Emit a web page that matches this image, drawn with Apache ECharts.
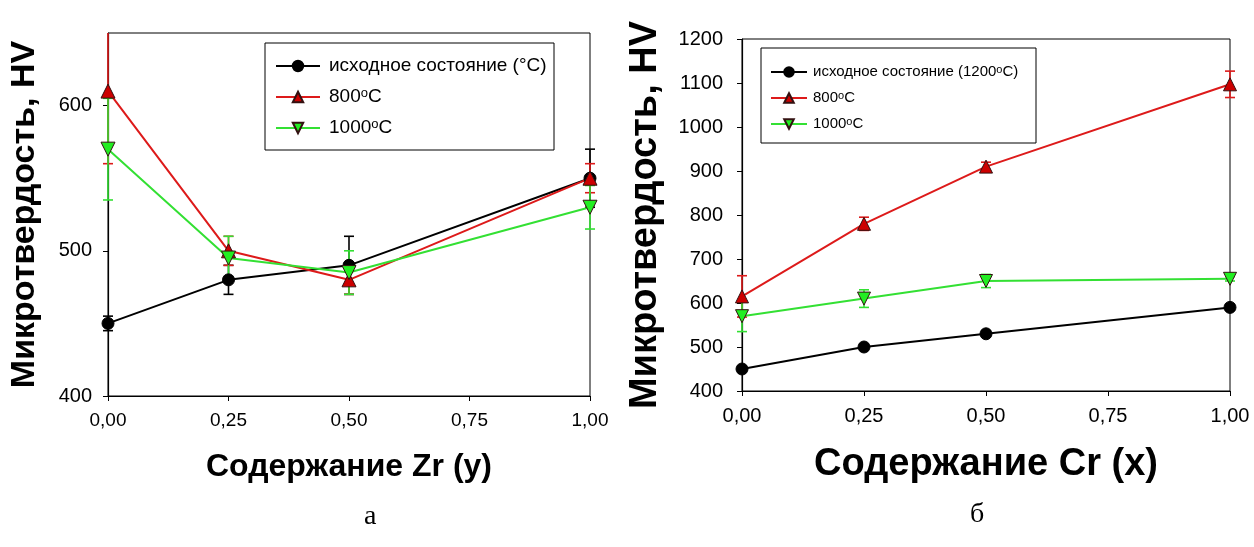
<!DOCTYPE html>
<html>
<head>
<meta charset="utf-8">
<script src="https://cdn.jsdelivr.net/npm/echarts@6/dist/echarts.min.js"></script>
<style>
  html, body { margin: 0; padding: 0; background: #fff; }
  #main { width: 1254px; height: 547px; }
</style>
</head>
<body>
<div id="main"></div>
<script>
// x positions (same for both panels)
var xValues = [0, 0.25, 0.5, 1.0]
var xTicks = [0, 0.25, 0.5, 0.75, 1.0]

// panel а: Zr content
var zrInitial = [450, 480, 490, 550]
var zrInitialErr = [5, 10, 20, 20]
var zr800 = [610, 500, 480, 550]
var zr800Err = [50, 10, 10, 10]
var zr1000 = [570, 495, 485, 530]
var zr1000Err = [35, 15, 15, 15]

// panel б: Cr content
var crInitial = [450, 500, 530, 590]
var crInitialErr = [6, 6, 6, 6]
var cr800 = [615, 780, 910, 1097]
var cr800Err = [47, 15, 10, 30]
var cr1000 = [570, 610, 650, 655]
var cr1000Err = [35, 20, 15, 5]

var nameInitA = 'исходное состояние (°C)'
var nameInitB = 'исходное состояние (1200°C)'
var name800 = '800°C'
var name1000 = '1000°C'

var legendText = {}
legendText[nameInitA] = 'исходное состояние (°C)'
legendText[nameInitB] = 'исходное состояние (1200{s|o}C)'
legendText[name800] = '800{s|o}C'
legendText[name1000] = '1000{s|o}C'

var BLACK = '#000000'
var RED = '#dd1a1a'
var RED_FILL = '#cc0000'
var GREEN = '#33e033'
var GREEN_FILL = '#22ee22'
var FONT = '"Liberation Sans", Arial, sans-serif'

function pairs(vals) {
  return xValues.map(function (x, i) { return [x, vals[i]] })
}
function triples(vals, errs) {
  return xValues.map(function (x, i) { return [x, vals[i], errs[i]] })
}

function lineSerie(name, vals, idx, color, fill, symbol, size, rotate) {
  return {
    name: name,
    type: 'line',
    xAxisIndex: idx,
    yAxisIndex: idx,
    data: pairs(vals),
    symbol: symbol,
    symbolSize: size,
    symbolRotate: rotate || 0,
    showAllSymbol: true,
    lineStyle: { color: color, width: 2 },
    itemStyle: { color: fill, borderColor: symbol == 'circle' ? BLACK : '#331111', borderWidth: 1 },
    z: 3,
    animation: false
  }
}

function errSerie(vals, errs, idx, color, yMax) {
  return {
    type: 'custom',
    xAxisIndex: idx,
    yAxisIndex: idx,
    data: triples(vals, errs),
    z: 2,
    silent: true,
    animation: false,
    renderItem: function (params, api) {
      var x = api.value(0), y = api.value(1), e = api.value(2)
      var hiVal = Math.min(y + e, yMax)
      var hi = api.coord([x, hiVal])
      var lo = api.coord([x, y - e])
      var w = 5
      var st = { stroke: color, lineWidth: 1.6 }
      var kids = [
        { type: 'line', shape: { x1: hi[0], y1: hi[1], x2: lo[0], y2: lo[1] }, style: st },
        { type: 'line', shape: { x1: lo[0] - w, y1: lo[1], x2: lo[0] + w, y2: lo[1] }, style: st }
      ]
      if (hiVal == y + e) {
        kids.push({ type: 'line', shape: { x1: hi[0] - w, y1: hi[1], x2: hi[0] + w, y2: hi[1] }, style: st })
      }
      return { type: 'group', children: kids }
    }
  }
}

function xAxisOpt(idx, title, labelSize, titleSize) {
  return {
    gridIndex: idx,
    type: 'value',
    min: 0,
    max: 1,
    interval: 0.25,
    axisLine: { lineStyle: { color: BLACK, width: 1.2 } },
    axisTick: { show: true, length: 5, lineStyle: { color: BLACK } },
    splitLine: { show: false },
    axisLabel: {
      color: BLACK, fontSize: labelSize, fontFamily: FONT, margin: 15,
      formatter: function (v) { return v.toFixed(2).replace('.', ',') }
    },
    name: title,
    nameLocation: 'middle',
    nameGap: 55,
    nameTextStyle: { color: BLACK, fontSize: titleSize, fontWeight: 'bold', fontFamily: FONT }
  }
}

function yAxisOpt(idx, min, max, margin, titleSize, nameGap) {
  return {
    gridIndex: idx,
    type: 'value',
    min: min,
    max: max,
    interval: 100,
    axisLine: { show: true, lineStyle: { color: BLACK, width: 1.2 } },
    axisTick: { show: true, length: 5, lineStyle: { color: BLACK } },
    splitLine: { show: false },
    axisLabel: {
      color: BLACK, fontSize: 20, fontFamily: FONT, margin: margin, showMaxLabel: max % 100 == 0,
      formatter: function (v) { return String(v) }
    },
    name: 'Микротвердость, HV',
    nameLocation: 'middle',
    nameRotate: 90,
    nameGap: nameGap,
    nameTextStyle: { color: BLACK, fontSize: titleSize, fontWeight: 'bold', fontFamily: FONT }
  }
}

var myChart = echarts.init(document.getElementById('main'), null, { renderer: 'canvas' })

var option = {
  backgroundColor: '#ffffff',
  animation: false,
  grid: [
    { left: 108, right: 664, top: 33, bottom: 151, show: true, borderColor: BLACK, borderWidth: 1, backgroundColor: 'transparent' },
    { left: 742, right: 24, top: 39, bottom: 156, show: true, borderColor: BLACK, borderWidth: 1, backgroundColor: 'transparent' }
  ],
  xAxis: [
    xAxisOpt(0, 'Содержание Zr (y)', 19, 32),
    xAxisOpt(1, 'Содержание Cr (x)', 20, 38)
  ],
  yAxis: [
    yAxisOpt(0, 400, 650, 16, 34, 66),
    yAxisOpt(1, 400, 1200, 19, 38, 77)
  ],
  legend: [
    {
      data: [nameInitA, name800, name1000],
      orient: 'vertical',
      left: 275,
      top: 56,
      padding: 0,
      itemGap: 11,
      itemWidth: 44,
      itemHeight: 13,
      z: 10,
      selectedMode: false,
      formatter: function (n) { return legendText[n] },
      textStyle: {
        color: BLACK, fontSize: 19, fontFamily: FONT, lineHeight: 20, padding: [0, 0, 0, 4],
        rich: { s: { fontSize: 13, verticalAlign: 'top', lineHeight: 12, fontFamily: FONT, color: BLACK } }
      }
    },
    {
      data: [nameInitB, name800, name1000],
      orient: 'vertical',
      left: 770,
      top: 64,
      padding: 0,
      itemGap: 10,
      itemWidth: 36,
      itemHeight: 12,
      z: 10,
      selectedMode: false,
      formatter: function (n) { return legendText[n] },
      textStyle: {
        color: BLACK, fontSize: 15, fontFamily: FONT, lineHeight: 16, padding: [0, 0, 0, 1],
        rich: { s: { fontSize: 11, verticalAlign: 'top', lineHeight: 10, fontFamily: FONT, color: BLACK } }
      }
    }
  ],
  graphic: [
    { type: 'rect', shape: { x: 265, y: 43, width: 289, height: 107 }, style: { fill: '#fff', stroke: BLACK, lineWidth: 1 }, z: 5 },
    { type: 'rect', shape: { x: 761, y: 48, width: 275, height: 95 }, style: { fill: '#fff', stroke: BLACK, lineWidth: 1 }, z: 5 },
    { type: 'text', left: 364, top: 503, style: { text: 'а', fontSize: 28, fontFamily: '"Liberation Serif", "Times New Roman", serif', fill: BLACK }, z: 5 },
    { type: 'text', left: 970, top: 501, style: { text: 'б', fontSize: 28, fontFamily: '"Liberation Serif", "Times New Roman", serif', fill: BLACK }, z: 5 }
  ],
  series: [
    errSerie(zrInitial, zrInitialErr, 0, BLACK, 650),
    errSerie(zr800, zr800Err, 0, RED, 650),
    errSerie(zr1000, zr1000Err, 0, GREEN, 650),
    lineSerie(nameInitA, zrInitial, 0, BLACK, BLACK, 'circle', 12),
    lineSerie(name800, zr800, 0, RED, RED_FILL, 'triangle', 14),
    lineSerie(name1000, zr1000, 0, GREEN, GREEN_FILL, 'triangle', 14, 180),

    errSerie(crInitial, crInitialErr, 1, BLACK, 1200),
    errSerie(cr800, cr800Err, 1, RED, 1200),
    errSerie(cr1000, cr1000Err, 1, GREEN, 1200),
    lineSerie(nameInitB, crInitial, 1, BLACK, BLACK, 'circle', 12),
    lineSerie(name800, cr800, 1, RED, RED_FILL, 'triangle', 13),
    lineSerie(name1000, cr1000, 1, GREEN, GREEN_FILL, 'triangle', 13, 180)
  ]
}

myChart.setOption(option)
</script>
</body>
</html>
